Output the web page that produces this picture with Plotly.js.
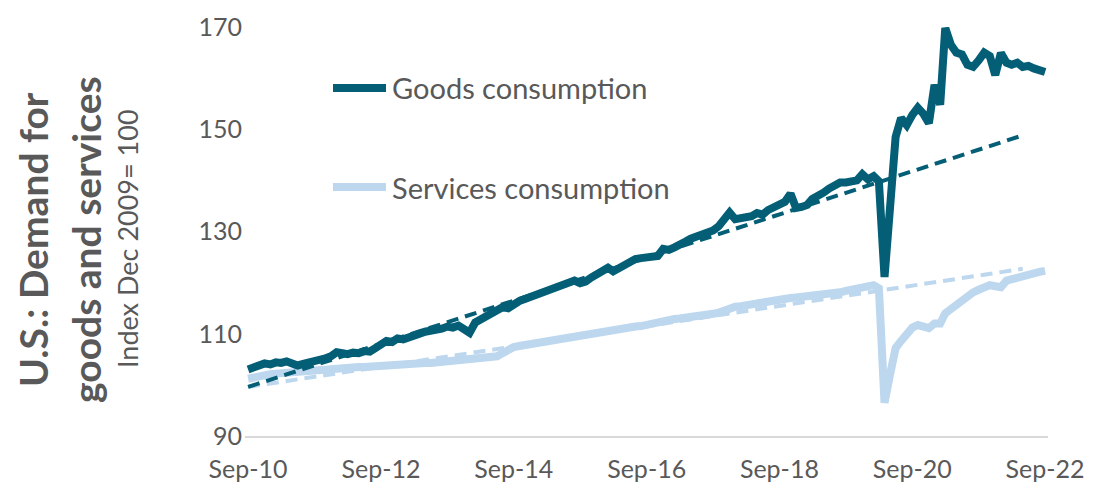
<!DOCTYPE html>
<html>
<head>
<meta charset="utf-8">
<script src="https://cdn.plot.ly/plotly-3.0.1.min.js"></script>
<style>
  html, body { margin: 0; padding: 0; background: #ffffff; }
  #chart { width: 1097px; height: 495px; }
</style>
</head>
<body>
<div id="chart"></div>
<script>
// ---- Data (monthly, Sep 2010 .. Sep 2022), Index Dec 2009 = 100 ----
const startYear = 2010;
const startMonth = 9; // September
const monthCount = 145;

const goods = [
  103.0, 103.4, 104.0, 104.2, 104.0, 104.4, 104.3, 104.6, 104.2, 103.8,
  104.1, 104.4, 104.3, 104.8, 105.2, 105.6, 106.4, 106.2, 106.0, 106.3,
  106.2, 106.6, 106.5, 107.2, 108.0, 108.6, 108.4, 109.1, 108.9, 109.4,
  109.6, 110.0, 110.4, 110.6, 110.5, 111.0, 111.4, 111.2, 111.6, 111.0,
  110.2, 112.2, 112.8, 113.4, 114.0, 114.6, 115.2, 115.0, 115.8, 116.4,
  116.8, 117.2, 117.6, 118.2, 118.6, 119.0, 119.4, 119.8, 120.3, 120.4,
  119.9, 120.2, 121.0, 121.6, 122.0, 122.9, 122.2, 122.8, 123.6, 124.3,
  124.6, 124.8, 124.9, 125.0, 125.2, 126.6, 126.4, 126.9, 127.6, 128.0,
  128.6, 129.0, 129.4, 129.8, 130.2, 131.0, 132.2, 133.7, 132.4, 132.5,
  132.8, 133.0, 133.6, 133.3, 134.2, 134.8, 135.0, 135.8, 137.4, 134.6,
  134.8, 135.2, 136.4, 136.8, 137.6, 138.4, 139.2, 139.6, 139.6, 139.7,
  140.0, 141.2, 140.2, 140.8, 139.8, 121.1, 136.0, 148.5, 152.2, 150.8,
  152.8, 154.2, 153.0, 151.2, 158.7, 154.8, 169.8, 166.5, 165.0, 164.6,
  162.6, 162.2, 163.5, 165.0, 164.3, 160.6, 164.9, 163.0, 162.6, 163.0,
  162.2, 162.4, 161.9, 161.7, 161.2
];

const services = [
  101.2, 101.5, 101.8, 101.9, 102.1, 102.2, 102.3, 102.4, 102.5, 102.5,
  102.7, 102.9, 103.0, 103.1, 103.2, 103.3, 103.3, 103.4, 103.4, 103.5,
  103.5, 103.5, 103.6, 103.7, 103.7, 103.8, 103.8, 103.9, 103.9, 104.0,
  104.1, 104.2, 104.3, 104.3, 104.4, 104.5, 104.6, 104.7, 104.8, 104.9,
  104.9, 105.1, 105.2, 105.4, 105.5, 105.6, 106.2, 107.0, 107.4, 107.6,
  107.8, 108.0, 108.2, 108.4, 108.6, 108.8, 109.0, 109.1, 109.3, 109.5,
  109.7, 109.8, 110.0, 110.2, 110.4, 110.5, 110.7, 110.9, 111.0, 111.2,
  111.4, 111.5, 111.8, 112.0, 112.3, 112.5, 112.6, 112.9, 113.0, 113.1,
  113.2, 113.3, 113.5, 113.7, 113.9, 114.1, 114.6, 115.0, 115.3, 115.4,
  115.6, 115.7, 115.9, 116.1, 116.3, 116.5, 116.7, 116.9, 117.0, 117.1,
  117.2, 117.4, 117.5, 117.4, 117.6, 117.8, 118.0, 118.1, 118.4, 118.6,
  118.7, 118.9, 119.2, 119.5, 118.9, 96.5, 102.0, 107.2, 108.6, 110.0,
  111.2, 111.7, 111.4, 111.1, 112.0, 112.0, 114.0, 114.8, 115.6, 116.6,
  117.6, 118.1, 118.6, 119.1, 119.5, 119.3, 119.1, 120.4, 120.7, 121.1,
  121.4, 121.6, 121.9, 122.1, 122.3
];

// Pre-pandemic linear trends, extended
const trendDates = ['2010-09-01', '2022-05-01'];
const goodsTrend = [99.6, 148.8];
const servicesTrend = [99.6, 122.7];

// Axis ticks
const tickDates = ['2010-09-01', '2012-09-01', '2014-09-01', '2016-09-01', '2018-09-01', '2020-09-01', '2022-09-01'];
const tickLabels = ['Sep-10', 'Sep-12', 'Sep-14', 'Sep-16', 'Sep-18', 'Sep-20', 'Sep-22'];
const yTicks = [90, 110, 130, 150, 170];

const seriesNames = ['Goods consumption', 'Services consumption'];
const yTitleLines = ['U.S.: Demand for', 'goods and services'];
const ySubtitle = 'Index Dec 2009= 100';

// ---- Build monthly dates ----
const dates = [];
for (let i = 0; i < monthCount; i++) {
  const y = startYear + Math.floor((startMonth - 1 + i) / 12);
  const m = ((startMonth - 1 + i) % 12) + 1;
  dates.push(y + '-' + String(m).padStart(2, '0') + '-01');
}

const DARK = '#035e76';
const LIGHT = '#bdd7ee';
const TEXT = '#595959';
const FONT = 'Lato, "Open Sans", sans-serif';

const traces = [
  { x: dates, y: services, type: 'scatter', mode: 'lines', name: seriesNames[1],
    line: { color: LIGHT, width: 8, shape: 'linear' }, showlegend: false, hoverinfo: 'x+y' },
  { x: dates, y: goods, type: 'scatter', mode: 'lines', name: seriesNames[0],
    line: { color: DARK, width: 8, shape: 'linear' }, showlegend: false, hoverinfo: 'x+y' },
  { x: trendDates, y: servicesTrend, type: 'scatter', mode: 'lines', name: 'Services trend',
    line: { color: LIGHT, width: 4, dash: '12px,7px' }, showlegend: false, hoverinfo: 'skip' },
  { x: trendDates, y: goodsTrend, type: 'scatter', mode: 'lines', name: 'Goods trend',
    line: { color: DARK, width: 4, dash: '12px,7px' }, showlegend: false, hoverinfo: 'skip' }
];

// plot area in pixels: left 245, right 1048, top 27, bottom 436
const L = 245, R = 1048, T = 27, B = 436;
const px = v => (v - L) / (R - L);
const py = v => (B - v) / (B - T);

const layout = {
  width: 1097, height: 495,
  margin: { l: L, r: 1097 - R, t: T, b: 495 - B, pad: 0 },
  paper_bgcolor: '#ffffff', plot_bgcolor: '#ffffff',
  font: { family: FONT, color: TEXT, size: 25 },
  showlegend: false,
  xaxis: {
    type: 'date',
    range: ['2010-08-15', '2022-09-17'],
    tickvals: tickDates, ticktext: tickLabels,
    showgrid: false, zeroline: false,
    showline: true, linecolor: '#d9d9d9', linewidth: 2,
    ticks: '', ticklabelstandoff: 10,
    tickfont: { family: FONT, size: 25, color: TEXT }
  },
  yaxis: {
    range: [90, 170],
    tickvals: yTicks,
    showgrid: false, zeroline: false, showline: false,
    ticks: '', ticklabelstandoff: 2,
    tickfont: { family: FONT, size: 25, color: TEXT }
  },
  shapes: [
    { type: 'line', xref: 'paper', yref: 'paper', x0: px(333), x1: px(386), y0: py(88), y1: py(88),
      line: { color: DARK, width: 8 } },
    { type: 'line', xref: 'paper', yref: 'paper', x0: px(333), x1: px(386), y0: py(187), y1: py(187),
      line: { color: LIGHT, width: 8 } }
  ],
  annotations: [
    { xref: 'paper', yref: 'paper', x: px(390), y: py(88), xanchor: 'left', yanchor: 'middle',
      text: seriesNames[0], showarrow: false, font: { family: FONT, size: 29, color: TEXT } },
    { xref: 'paper', yref: 'paper', x: px(390), y: py(187), xanchor: 'left', yanchor: 'middle',
      text: seriesNames[1], showarrow: false, font: { family: FONT, size: 29, color: TEXT } },
    { xref: 'paper', yref: 'paper', x: px(33), y: py(240), xanchor: 'center', yanchor: 'middle',
      textangle: -90, text: '<b>' + yTitleLines[0] + '</b>', showarrow: false,
      font: { family: FONT, size: 39, color: TEXT } },
    { xref: 'paper', yref: 'paper', x: px(86), y: py(240), xanchor: 'center', yanchor: 'middle',
      textangle: -90, text: '<b>' + yTitleLines[1] + '</b>', showarrow: false,
      font: { family: FONT, size: 39, color: TEXT } },
    { xref: 'paper', yref: 'paper', x: px(128), y: py(239), xanchor: 'center', yanchor: 'middle',
      textangle: -90, text: ySubtitle, showarrow: false,
      font: { family: FONT, size: 27, color: TEXT } }
  ]
};

Plotly.newPlot('chart', traces, layout, { staticPlot: true, displayModeBar: false });
</script>
</body>
</html>
